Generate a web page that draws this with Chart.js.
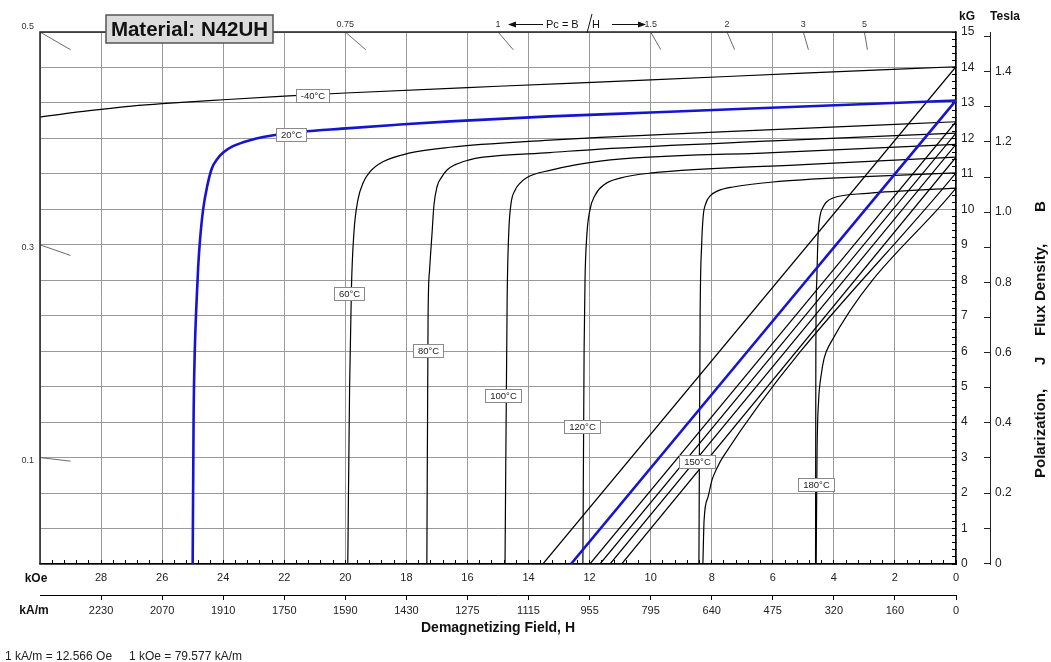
<!DOCTYPE html>
<html>
<head>
<meta charset="utf-8">
<script src="https://cdn.jsdelivr.net/npm/chart.js@4.4.1/dist/chart.umd.min.js"></script>
<style>
  html, body { margin: 0; padding: 0; background: #fff; }
  #wrap { position: relative; width: 1051px; height: 662px; }
</style>
</head>
<body>
<div id="wrap"><canvas id="bh"></canvas></div>
<script>
// H in kOe (demagnetizing, plotted right to left), B / J in kG
const tempNames = ['-40°C', '20°C', '60°C', '80°C', '100°C', '120°C', '150°C', '180°C'];

// intrinsic (J) curves, [H, J]
const jM40 = [[0,14.02],[5,13.84],[10,13.65],[15,13.47],[20,13.28],[22,13.19],[24,13.09],[26,12.98],[27,12.91],[28,12.82],[29,12.72],[30,12.6]];
const j20  = [[0,13.07],[5,12.9],[10,12.73],[13.3,12.62],[16.57,12.48],[18.21,12.39],[19.85,12.29],[22.2,12.11],[23.12,11.95],[23.68,11.78],[24.0,11.6],[24.2,11.41],[24.37,11.16],[24.53,10.63],[24.66,9.98],[24.76,9.13],[24.82,8.37],[24.87,7.44],[24.93,6.03],[24.97,4.06],[25.0,0]];
const j60  = [[0,12.47],[6,12.25],[11.66,12.03],[13.3,11.95],[16.57,11.75],[17.88,11.59],[18.77,11.34],[19.19,11.06],[19.42,10.74],[19.59,10.26],[19.72,9.33],[19.8,7.8],[19.86,5.0],[19.92,0]];
const j80  = [[0,12.15],[6,11.93],[11.66,11.7],[13.3,11.6],[15.49,11.47],[16.0,11.38],[16.4,11.26],[16.67,11.11],[16.85,10.9],[17.0,10.63],[17.1,10.1],[17.16,9.33],[17.24,8.3],[17.29,7.0],[17.33,0]];
const j100 = [[0,11.83],[6,11.6],[11.66,11.36],[13.3,11.1],[14.05,10.9],[14.3,10.72],[14.44,10.54],[14.58,10.12],[14.65,9.3],[14.7,7.5],[14.77,0]];
const j120 = [[0,11.47],[5,11.26],[10.02,11.02],[11.0,10.88],[11.5,10.71],[11.82,10.4],[11.99,9.98],[12.09,9.28],[12.15,8.01],[12.18,6.03],[12.22,0]];
const j150 = [[0,11.03],[3,10.92],[6.0,10.77],[7.3,10.63],[7.8,10.52],[8.05,10.38],[8.2,10.15],[8.28,9.8],[8.33,9.0],[8.38,7.0],[8.42,0]];
const j180 = [[0,10.6],[2.9,10.45],[4.03,10.32],[4.25,10.2],[4.36,10.05],[4.46,9.78],[4.52,9.2],[4.56,8.0],[4.59,6.0],[4.6,0]];

// normal (B) curves, [H, B]
const bM40 = [[0,14.02],[13.53,0]];
const b20  = [[0,13.07],[12.61,0]];
const b60  = [[0,12.47],[11.99,0]];
const b80  = [[0,12.15],[11.66,0]];
const b100 = [[0,11.83],[11.33,0]];
const b120 = [[0,11.47],[10.95,0]];
const b150 = [[0,11.03],[7.63,3.02],[7.83,2.7],[7.99,2.37],[8.12,1.89],[8.25,1.24],[8.29,0]];
const b180 = [[0,10.6],[4.13,6.2],[4.32,5.8],[4.42,5.3],[4.5,4.6],[4.55,3.2],[4.58,0]];

const jCurves = [jM40, j20, j60, j80, j100, j120, j150, j180];
const bCurves = [bM40, b20, b60, b80, b100, b120, b150, b180];

// where the temperature tags sit on the curves (H, B)
const tagH = [21.09, 21.78, 19.88, 17.29, 14.84, 12.25, 8.48, 4.59];
const tagB = [13.22, 12.12, 7.64, 6.03, 4.74, 3.89, 2.88, 2.23];

// permeance coefficient load lines B = Pc * H
const pcValues = [0.1, 0.3, 0.5, 0.75, 1, 1.5, 2, 3, 5];

// tick labels
const kOeTicks = [0, 2, 4, 6, 8, 10, 12, 14, 16, 18, 20, 22, 24, 26, 28];
const kAmTicks = [0, 160, 320, 475, 640, 795, 955, 1115, 1275, 1430, 1590, 1750, 1910, 2070, 2230];
const teslaTickVals = [0, 0.1, 0.2, 0.3, 0.4, 0.5, 0.6, 0.7, 0.8, 0.9, 1.0, 1.1, 1.2, 1.3, 1.4, 1.5];
const teslaTickText = ['0', '', '0.2', '', '0.4', '', '0.6', '', '0.8', '', '1.0', '', '1.2', '', '1.4', ''];

const FONT = "'Liberation Sans', Arial, Helvetica, sans-serif";
const GRID = '#9a9a9a';
const BLUE = '#1414d2';
const NONE = 'rgba(0,0,0,0)';
const isMult = (v, s) => Math.abs(v / s - Math.round(v / s)) < 1e-6;
const toXY = arr => arr.map(p => ({ x: p[0], y: p[1] }));

Chart.defaults.font.family = FONT;

const datasets = [];
pcValues.forEach(pc => {
  let seg;
  if (pc * 30 > 15) seg = [[15 / pc, 15], [14.5 / pc, 14.5]];
  else seg = [[30, 30 * pc], [29, 29 * pc]];
  datasets.push({ data: toXY(seg), borderColor: '#6a6a6a', borderWidth: 1, order: 3 });
});
tempNames.forEach((t, i) => {
  const blue = t === '20°C';
  datasets.push({
    label: t + ' J', data: toXY(jCurves[i]), cubicInterpolationMode: 'monotone',
    borderColor: blue ? BLUE : '#000', borderWidth: blue ? 2.6 : 1.2, order: blue ? 0 : 2
  });
  datasets.push({
    label: t + ' B', data: toXY(bCurves[i]), cubicInterpolationMode: 'monotone',
    borderColor: blue ? BLUE : '#000', borderWidth: blue ? 2.6 : 1.2, order: blue ? 0 : 2
  });
});

const decor = {
  id: 'decor',
  afterDatasetsDraw(chart) {
    const { ctx, scales: { x, y } } = chart;
    ctx.save();
    ctx.font = '9.5px ' + FONT;
    ctx.textAlign = 'center';
    ctx.textBaseline = 'middle';
    tempNames.forEach((t, i) => {
      const px = x.getPixelForValue(tagH[i]);
      const py = y.getPixelForValue(tagB[i]);
      const w = Math.round(ctx.measureText(t).width + 9), h = 13;
      const bx = Math.round(px - w / 2) + 0.5, by = Math.round(py - h / 2) + 0.5;
      ctx.fillStyle = '#fff';
      ctx.fillRect(bx, by, w, h);
      ctx.strokeStyle = '#8a8a8a';
      ctx.lineWidth = 1;
      ctx.strokeRect(bx, by, w, h);
      ctx.fillStyle = '#222';
      ctx.fillText(t, bx + w / 2, by + h / 2 + 0.5);
    });
    ctx.restore();
  },
  afterDraw(chart) {
    const { ctx, chartArea: a, scales: { x, y } } = chart;
    ctx.save();
    // frame (left and top; bottom/right are the axis borders)
    ctx.strokeStyle = '#222';
    ctx.lineWidth = 1.5;
    ctx.beginPath();
    ctx.moveTo(a.left, a.bottom);
    ctx.lineTo(a.left, a.top);
    ctx.lineTo(a.right, a.top);
    ctx.stroke();

    // Pc labels
    ctx.font = '9px ' + FONT;
    ctx.fillStyle = '#333';
    ctx.textBaseline = 'middle';
    pcValues.forEach(pc => {
      const txt = String(pc);
      if (pc * 30 > 15) {
        ctx.textAlign = 'center';
        ctx.fillText(txt, x.getPixelForValue(15 / pc), a.top - 7);
      } else {
        const py = y.getPixelForValue(30 * pc);
        ctx.textAlign = 'right';
        ctx.fillText(txt, a.left - 6, py <= a.top + 1 ? py - 5 : py + 3);
      }
    });

    // Pc = B / H header
    ctx.strokeStyle = '#111';
    ctx.fillStyle = '#111';
    ctx.lineWidth = 1;
    ctx.beginPath();
    ctx.moveTo(543, 24.5); ctx.lineTo(514, 24.5);
    ctx.moveTo(612, 24.5); ctx.lineTo(640, 24.5);
    ctx.moveTo(587, 33); ctx.lineTo(592, 14);
    ctx.stroke();
    ctx.beginPath();
    ctx.moveTo(508, 24.5); ctx.lineTo(516, 21.5); ctx.lineTo(516, 27.5); ctx.closePath();
    ctx.moveTo(646, 24.5); ctx.lineTo(638, 21.5); ctx.lineTo(638, 27.5); ctx.closePath();
    ctx.fill();
    ctx.font = '11px ' + FONT;
    ctx.textAlign = 'left';
    ctx.fillText('Pc = B', 546, 25);
    ctx.fillText('H', 592, 25);

    // material title box
    ctx.fillStyle = '#dcdcdc';
    ctx.fillRect(106, 15, 167, 28);
    ctx.strokeStyle = '#555';
    ctx.lineWidth = 1.5;
    ctx.strokeRect(106, 15, 167, 28);
    ctx.fillStyle = '#111';
    ctx.font = 'bold 20.5px ' + FONT;
    ctx.textAlign = 'center';
    ctx.fillText('Material: N42UH', 189.5, 30);

    // unit captions
    ctx.font = 'bold 12px ' + FONT;
    ctx.fillText('kG', 967, 17);
    ctx.fillText('Tesla', 1005, 17);
    ctx.fillText('kOe', 36, 579);
    ctx.fillText('kA/m', 34, 611);

    // right axis title, reading bottom to top
    ctx.save();
    ctx.translate(1041, 478);
    ctx.rotate(-Math.PI / 2);
    ctx.font = 'bold 15px ' + FONT;
    ctx.textAlign = 'left';
    ctx.fillText('Polarization,', 0, 0);
    ctx.fillText('J', 113, 0);
    ctx.fillText('Flux Density,', 142, 0);
    ctx.fillText('B', 266, 0);
    ctx.restore();

    // conversion note
    ctx.font = '12px ' + FONT;
    ctx.fillStyle = '#222';
    ctx.textAlign = 'left';
    ctx.fillText('1 kA/m = 12.566 Oe', 5, 657);
    ctx.fillText('1 kOe = 79.577 kA/m', 129, 657);
    ctx.restore();
  }
};

new Chart(document.getElementById('bh'), {
  type: 'scatter',
  data: { datasets },
  plugins: [decor],
  options: {
    responsive: true,
    maintainAspectRatio: false,
    animation: false,
    showLine: true,
    elements: { point: { radius: 0, hoverRadius: 0 }, line: { fill: false } },
    layout: { padding: { left: 40, top: 32, right: 21, bottom: 7 } },
    plugins: { legend: { display: false }, tooltip: { enabled: false } },
    scales: {
      x: {
        type: 'linear', position: 'bottom', reverse: true, min: 0, max: 30, weight: 0,
        grid: {
          color: c => isMult(c.tick.value, 2) ? GRID : NONE,
          tickColor: c => c.tick.value > 29.9 ? NONE : '#000',
          tickLength: -4, lineWidth: 1
        },
        border: { color: '#000', width: 1.5 },
        ticks: {
          stepSize: 0.4, autoSkip: false, maxRotation: 0, padding: 11, color: '#222', font: { size: 11 },
          callback: v => { const i = kOeTicks.indexOf(Math.round(v * 10) / 10); return i < 0 ? '' : String(kOeTicks[i]); }
        },
        afterFit: s => { s.height = 31; }
      },
      x2: {
        type: 'linear', position: 'bottom', reverse: true, min: 0, max: 30, weight: 1,
        grid: {
          drawOnChartArea: false, tickLength: 5,
          tickColor: c => (isMult(c.tick.value, 2) && c.tick.value < 29.9) ? '#000' : NONE
        },
        border: { color: '#000', width: 1 },
        ticks: {
          stepSize: 2, autoSkip: false, maxRotation: 0, padding: 4, color: '#222', font: { size: 11 },
          callback: v => { const i = kOeTicks.indexOf(Math.round(v)); return i < 0 ? '' : String(kAmTicks[i]); }
        },
        title: { display: true, text: 'Demagnetizing Field, H', color: '#111', font: { size: 14, weight: 'bold' }, padding: { top: 2, bottom: 18 } },
        afterFit: s => { s.height = 60; }
      },
      y: {
        type: 'linear', position: 'right', min: 0, max: 15, weight: 0,
        grid: {
          color: c => isMult(c.tick.value, 1) ? GRID : NONE,
          tickColor: '#000', tickLength: -4, lineWidth: 1
        },
        border: { color: '#000', width: 1.5 },
        ticks: {
          stepSize: 0.2, autoSkip: false, padding: 9, color: '#222', font: { size: 12 },
          callback: v => isMult(v, 1) ? String(Math.round(v)) : ''
        },
        afterFit: s => { s.width = 34; }
      },
      yT: {
        type: 'linear', position: 'right', min: -0.002, max: 1.513, weight: 1,
        afterBuildTicks: s => { s.ticks = teslaTickVals.map(v => ({ value: v })); },
        grid: { drawOnChartArea: false, tickLength: -6, tickColor: '#222' },
        border: { color: '#222', width: 1 },
        ticks: {
          autoSkip: false, padding: 11, color: '#222', font: { size: 12 },
          callback: (v, i) => teslaTickText[i] || ''
        },
        afterFit: s => { s.width = 40; }
      }
    }
  }
});
</script>
</body>
</html>
